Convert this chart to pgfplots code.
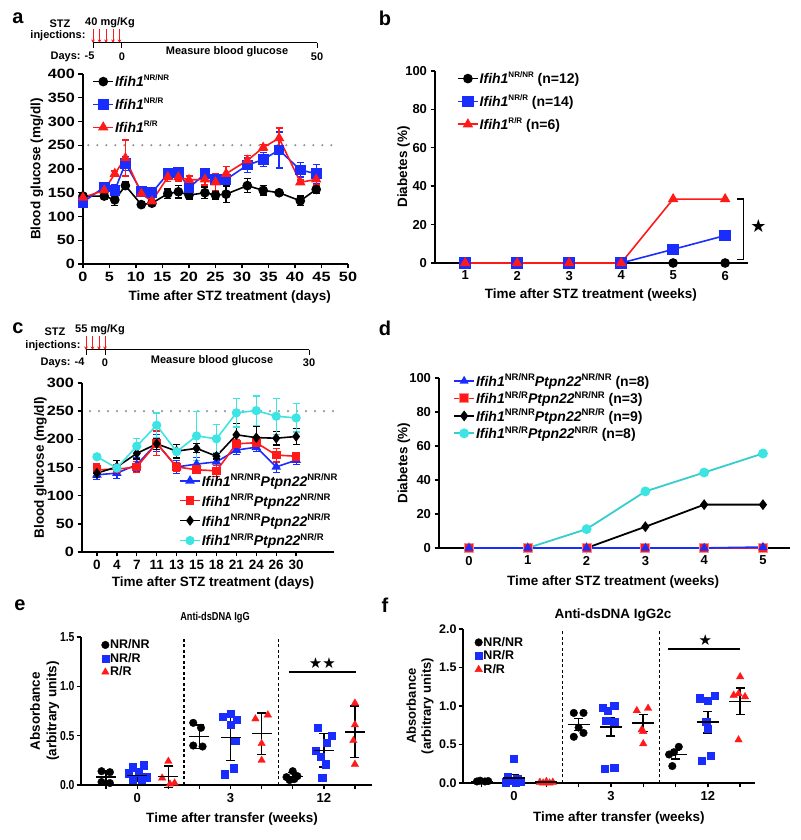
\documentclass[border=0pt]{standalone}
\usepackage{fontspec}
\setmainfont{Liberation Sans}
\newfontfamily\tickfont{Liberation Sans}[FakeStretch=1.2]
\newfontfamily\condfont{Liberation Sans}[FakeStretch=0.8]
\newfontfamily\sym{DejaVu Sans}
\usepackage{pgfplots}
\pgfplotsset{compat=1.18}
\usetikzlibrary{arrows.meta}
\definecolor{cblue}{RGB}{25,45,255}
\definecolor{cred}{RGB}{255,25,25}
\definecolor{ccyan}{RGB}{60,228,228}
\definecolor{dotgray}{RGB}{150,150,150}
\newcommand\fs[1]{\fontsize{#1}{#1}\selectfont}
\newcommand\spr[2][8]{\raisebox{0.75ex}{\fs{#1}\upshape #2}}
\pgfplotsset{
  gp/.style={
    scale only axis, axis lines=left, axis line style={-, line width=1.6pt},
    tick align=outside, major tick length=4.5pt, tick style={line width=1.4pt, black},
    tick label style={font=\bfseries\fs{13}},
    /pgf/number format/assume math mode=true,
    label style={font=\bfseries\fs{13.5}},
    clip=false, anchor=south west,
    legend cell align=left,
    legend style={draw=none, fill=none, inner sep=0pt, font=\bfseries\fs{14}, nodes={inner sep=1pt}},
  },
  wide/.style={yticklabel style={font=\tickfont\bfseries\fs{13.5}}},
  widex/.style={xticklabel style={font=\tickfont\bfseries\fs{13.5}}},
  xl/.style 2 args={xlabel style={at={(axis description cs:#1,#2)}, anchor=center}},
  yl/.style={ylabel style={at={(axis description cs:#1,0.5)}, anchor=center}},
  lineleg/.style={legend image code/.code={\draw[mark repeat=2,mark phase=2,##1] plot coordinates {(0pt,0pt) (10pt,0pt) (20pt,0pt)};}},
  markleg/.style={legend image code/.code={\draw[##1] plot coordinates {(0pt,0pt)};}},
  errs/.style={error bars/.cd, y dir=both, y explicit, error bar style={line width=1.3pt, solid}, error mark options={rotate=90, line width=1.3pt, mark size=3.5pt}},
  msd/.style={forget plot, only marks, black, mark=-, mark size=#1, mark options={line width=1.6pt},
    error bars/.cd, y dir=both, y explicit, error bar style={line width=1.6pt}, error mark options={rotate=90, line width=1.6pt, mark size=4.5pt}},
}
\begin{document}
\begin{tikzpicture}
\useasboundingbox (0,0) rectangle (800pt,840pt);
% panel labels
\node[font=\bfseries\fs{20}] at (18pt,822pt) {a};
\node[font=\bfseries\fs{20}] at (385pt,822pt) {b};
\node[font=\bfseries\fs{20}] at (18pt,512pt) {c};
\node[font=\bfseries\fs{20}] at (385pt,512pt) {d};
\node[font=\bfseries\fs{20}] at (20pt,235pt) {e};
\node[font=\bfseries\fs{20}] at (385pt,235pt) {f};
% timeline a
\foreach \x in {93,99.5,106,113,119.5} {\draw[cred, line width=0.8pt, -{Stealth[length=3.5pt,width=3.5pt]}] ({\x*1pt},811pt) -- ({\x*1pt},797pt);}
\draw[line width=1pt] (93pt,797pt) -- (317pt,797pt);
\foreach \x in {93,121,317} {\draw[line width=1pt] ({\x*1pt},797pt) -- ({\x*1pt},792pt);}
\begin{scope}[every node/.style={font=\bfseries\fs{11}}]
\node at (60pt,816pt) {STZ};
\node at (110pt,817pt) {40 mg/Kg};
\node[anchor=east] at (89pt,804pt) {injections:};
\node[anchor=east] at (98pt,783pt) {Days: -5};
\node at (122pt,783pt) {0};
\node at (227pt,788pt) {Measure blood glucose};
\node at (317pt,783pt) {50};
% timeline c
\node at (55pt,508pt) {STZ};
\node at (100pt,510pt) {55 mg/Kg};
\node[anchor=east] at (84pt,494pt) {injections:};
\node[anchor=east] at (88pt,477pt) {Days: -4};
\node at (105pt,477pt) {0};
\node at (212pt,479pt) {Measure blood glucose};
\node at (309pt,477pt) {30};
\end{scope}
\foreach \x in {86,92.5,99,105} {\draw[cred, line width=0.8pt, -{Stealth[length=3.5pt,width=3.5pt]}] ({\x*1pt},504pt) -- ({\x*1pt},490pt);}
\draw[line width=1pt] (86pt,490pt) -- (309pt,490pt);
\foreach \x in {86,105,309} {\draw[line width=1pt] ({\x*1pt},490pt) -- ({\x*1pt},485pt);}
% titles e f
\node[font=\condfont\bfseries\fs{11.5}] at (215pt,222pt) {Anti-dsDNA IgG};
\node[font=\bfseries\fs{13.5}] at (613pt,225pt) {Anti-dsDNA IgG2c};

%================ a
\begin{axis}[gp, wide, widex, at={(83pt,576pt)}, width=265pt, height=190pt,
  xmin=0, xmax=50, ymin=0, ymax=400, xtick={0,5,...,50}, ytick={0,50,...,400},
  xlabel={Time after STZ treatment (days)}, ylabel={Blood glucose (mg/dl)},
  xl={0.554}{-0.174}, yl=-0.174,
  lineleg, legend style={at={(0.035,1.0)}, anchor=north west, row sep=8pt}]
\addplot[forget plot, dotgray, line width=2.4pt, line cap=round, dash pattern=on 0pt off 9pt] coordinates {(1,250) (48.5,250)};
\addplot[black, line width=1.6pt, mark=*, mark size=4pt, errs] coordinates {
(0,143)+-(0,6) (4,143)+-(0,6) (6,135)+-(0,12) (8,165)+-(0,8) (11,125)+-(0,5) (13,128)+-(0,5)
(16,148)+-(0,10) (18,152)+-(0,13) (20,145)+-(0,8) (23,150)+-(0,12) (25,145)+-(0,8) (27,147)+-(0,17)
(31,165)+-(0,15) (34,155)+-(0,10) (37,150)+-(0,5) (41,133)+-(0,10) (44,157)+-(0,8)};
\addlegendentry{\textit{Ifih1}\spr{NR/NR}}
\addplot[cblue, line width=1.6pt, mark=square*, mark size=4.5pt, errs] coordinates {
(0,130)+-(0,8) (4,162)+-(0,8) (6,155)+-(0,12) (8,212)+-(0,15) (11,153)+-(0,10) (13,150)+-(0,10)
(16,190)+-(0,10) (18,193)+-(0,8) (20,160)+-(0,10) (23,190)+-(0,8) (25,178)+-(0,10) (27,178)+-(0,10)
(31,208)+-(0,15) (34,220)+-(0,15) (37,240)+-(0,38) (41,198)+-(0,15) (44,190)+-(0,20)};
\addlegendentry{\textit{Ifih1}\spr{NR/R}}
\addplot[cred, line width=1.6pt, mark=triangle*, mark size=4.5pt, errs] coordinates {
(0,140)+-(0,6) (4,155)+-(0,6) (6,190)+-(0,6) (8,223)+-(0,38) (11,148)+-(0,6) (13,132)+-(0,6)
(16,183)+-(0,10) (18,183)+-(0,8) (20,177)+-(0,8) (23,178)+-(0,12) (25,172)+-(0,18) (27,190)+-(0,15)
(31,218)+-(0,10) (34,245)+-(0,6) (37,265)+-(0,21) (41,172)+-(0,5) (44,178)+-(0,12)};
\addlegendentry{\textit{Ifih1}\spr{R/R}}
\end{axis}

%================ b
\begin{axis}[gp, at={(435pt,577pt)}, width=313pt, height=192pt,
  xmin=0.42, xmax=6.44, ymin=0, ymax=100, xtick={1,...,6}, ytick={0,20,...,100},
  xlabel={Time after STZ treatment (weeks)}, ylabel={Diabetes (\%)},
  xl={0.498}{-0.167}, yl=-0.1,
  lineleg, legend style={at={(0.07,1.0)}, anchor=north west, row sep=8pt}]
\addplot[black, line width=1.6pt, mark=*, mark size=4pt] coordinates {(1,0)(2,0)(3,0)(4,0)(5,0)(6,0)};
\addlegendentry{\textit{Ifih1}\spr{NR/NR} (n=12)}
\addplot[cblue, line width=1.6pt, mark=square*, mark size=5pt] coordinates {(1,0)(2,0)(3,0)(4,0)(5,7.1)(6,14.3)};
\addlegendentry{\textit{Ifih1}\spr{NR/R} (n=14)}
\addplot[cred, line width=1.6pt, mark=triangle*, mark size=4.5pt] coordinates {(1,0)(2,0)(3,0)(4,0)(5,33.3)(6,33.3)};
\addlegendentry{\textit{Ifih1}\spr{R/R} (n=6)}
\draw[line width=1.3pt] (axis cs:6.23,33.3) -- (axis cs:6.35,33.3) -- (axis cs:6.35,2) -- (axis cs:6.23,2);
\node[font=\sym\fs{18}] at (axis cs:6.64,19) {★};
\end{axis}

%================ c
\begin{axis}[gp, wide, at={(82pt,288pt)}, width=252pt, height=169pt,
  xmin=-0.75, xmax=11.9, ymin=0, ymax=300, xtick={0,...,10}, xticklabels={0,4,7,11,13,15,18,21,24,26,30},
  ytick={0,50,...,300}, xticklabel style={font=\bfseries\fs{13.5}},
  xlabel={Time after STZ treatment (days)}, ylabel={Blood glucose (mg/dl)},
  xl={0.52}{-0.183}, yl=-0.165,
  lineleg, legend style={at={(0.385,0.47)}, anchor=north west, row sep=4pt}]
\addplot[forget plot, dotgray, line width=2.4pt, line cap=round, dash pattern=on 0pt off 9pt] coordinates {(-0.35,250) (12,250)};
\addplot[cblue, line width=1.6pt, mark=triangle*, mark size=4pt, errs] coordinates {
(0,137)+-(0,8) (1,140)+-(0,10) (2,155)+-(0,12) (3,193)+-(0,15) (4,151)+-(0,12) (5,156)+-(0,12)
(6,160)+-(0,10) (7,181)+-(0,8) (8,186)+-(0,8) (9,151)+-(0,10) (10,163)+-(0,8)};
\addlegendentry{\textit{Ifih1}\spr[9.5]{NR/NR}\textit{Ptpn22}\spr[9.5]{NR/NR}}
\addplot[cred, line width=1.6pt, mark=square*, mark size=3.5pt, errs] coordinates {
(0,146)+-(0,10) (1,147)+-(0,8) (2,151)+-(0,10) (3,193)+-(0,22) (4,151)+-(0,8) (5,146)+-(0,5)
(6,144)+-(0,10) (7,192)+-(0,8) (8,194)+-(0,10) (9,172)+-(0,12) (10,170)+-(0,6)};
\addlegendentry{\textit{Ifih1}\spr[9.5]{NR/R}\textit{Ptpn22}\spr[9.5]{NR/NR}}
\addplot[black, line width=1.6pt, mark=diamond*, mark size=4pt, errs] coordinates {
(0,140)+-(0,8) (1,151)+-(0,12) (2,175)+-(0,10) (3,192)+-(0,10) (4,179)+-(0,12) (5,184)+-(0,8)
(6,170)+-(0,5) (7,208)+-(0,20) (8,203)+-(0,20) (9,202)+-(0,12) (10,205)+-(0,14)};
\addlegendentry{\textit{Ifih1}\spr[9.5]{NR/NR}\textit{Ptpn22}\spr[9.5]{NR/R}}
\addplot[ccyan, line width=1.6pt, mark=*, mark size=3.8pt, errs] coordinates {
(0,169)+-(0,3) (1,149)+-(0,3) (2,188)+-(0,13) (3,225)+-(0,22) (4,178)+-(0,3) (5,206)+-(0,43)
(6,201)+-(0,25) (7,247)+-(0,25) (8,251)+-(0,26) (9,241)+-(0,32) (10,238)+-(0,25)};
\addlegendentry{\textit{Ifih1}\spr[9.5]{NR/R}\textit{Ptpn22}\spr[9.5]{NR/R}}
\end{axis}

%================ d
\begin{axis}[gp, at={(439pt,292pt)}, width=351pt, height=170pt,
  xmin=-0.51, xmax=5.46, ymin=0, ymax=100, xtick={0,...,5}, ytick={0,20,...,100},
  xlabel={Time after STZ treatment (weeks)}, ylabel={Diabetes (\%)},
  xl={0.496}{-0.2}, yl=-0.1,
  lineleg, reverse legend, legend style={at={(0.04,1.03)}, anchor=north west, row sep=1.5pt}]
\addplot[ccyan!90!black, line width=1.8pt, mark=*, mark size=4pt, mark options={ccyan}] coordinates {(0,0)(1,0)(2,11.1)(3,33.3)(4,44.4)(5,55.6)};
\addlegendentry{\textit{Ifih1}\spr[9.5]{NR/R}\textit{Ptpn22}\spr[9.5]{NR/R} (n=8)}
\addplot[black, line width=1.8pt, mark=diamond*, mark size=4pt] coordinates {(0,0)(1,0)(2,0)(3,12.5)(4,25.5)(5,25.5)};
\addlegendentry{\textit{Ifih1}\spr[9.5]{NR/NR}\textit{Ptpn22}\spr[9.5]{NR/R} (n=9)}
\addplot[cred, line width=1.8pt, mark=square*, mark size=4.5pt, mark options={fill=cred, draw=red!45, line width=1pt}] coordinates {(0,0)(1,0)(2,0)(3,0)(4,0)(5,0)};
\addlegendentry{\textit{Ifih1}\spr[9.5]{NR/R}\textit{Ptpn22}\spr[9.5]{NR/NR} (n=3)}
\addplot[cblue, line width=1.8pt, mark=triangle*, mark size=3.5pt] coordinates {(0,0)(1,0)(2,0)(3,0)(4,0)(5,0.5)};
\addlegendentry{\textit{Ifih1}\spr[9.5]{NR/NR}\textit{Ptpn22}\spr[9.5]{NR/NR} (n=8)}
\end{axis}

%================ e
\begin{axis}[gp, at={(81pt,55pt)}, width=291pt, height=148pt,
  xmin=0.19, xmax=9.55, ymin=0, ymax=1.5, xtick={1,...,9}, xticklabels={,0,,,3,,,12,},
  ytick={0,0.5,1,1.5}, yticklabel style={font=\condfont\bfseries\fs{13}, xshift=1.5pt, /pgf/number format/.cd,fixed,fixed zerofill,precision=1},
  xlabel={Time after transfer (weeks)}, ylabel={Absorbance\\[3pt](arbitrary units)}, ylabel style={align=center, font=\bfseries\fs{13.5}},
  xl={0.519}{-0.23}, yl=-0.125,
  markleg, legend style={at={(0.07,0.99)}, anchor=north west, row sep=1pt, font=\bfseries\fs{12.5}}]
\addplot[forget plot, black, line width=1.2pt, dash pattern=on 3pt off 2.5pt] coordinates {(3.5,0)(3.5,1.5)};
\addplot[forget plot, black, line width=1.2pt, dash pattern=on 3pt off 2.5pt] coordinates {(6.55,0)(6.55,1.5)};
\addplot[only marks, black, mark=*, mark size=3.8pt] coordinates {
(0.85,0.14)(1.12,0.13)(0.85,0.03)(1.12,0.02)
(3.8,0.63)(4.05,0.58)(3.8,0.40)(4.1,0.39)
(6.8,0.08)(7.0,0.14)(7.15,0.09)(6.9,0.05)(7.05,0.06)};
\addlegendentry{NR/NR}
\addplot[only marks, cblue, mark=square*, mark size=3.6pt] coordinates {
(1.85,0.18)(2.2,0.2)(1.72,0.12)(2.05,0.13)(1.85,0.05)(2.15,0.05)(2.3,0.08)
(4.75,0.69)(5.0,0.72)(5.2,0.66)(5.0,0.61)(5.15,0.45)(4.8,0.11)(5.1,0.17)
(7.8,0.58)(8.25,0.5)(8.1,0.43)(7.75,0.35)(7.9,0.29)(8.05,0.21)(7.95,0.07)};
\addlegendentry{NR/R}
\addplot[only marks, cred, mark=triangle*, mark size=4.3pt] coordinates {
(3.0,0.24)(2.8,0.07)(3.05,0.01)(3.2,0.02)
(5.8,0.67)(6.2,0.71)(6.0,0.42)(6.0,0.25)
(9.0,0.83)(9.0,0.61)(8.95,0.45)(9.0,0.21)};
\addlegendentry{R/R}
\addplot[msd=10pt] coordinates {
(1,0.08)+-(0,0.06) (2,0.095)+-(0,0.06) (3,0.085)+-(0,0.11) (4,0.49)+-(0,0.12) (5,0.48)+-(0,0.23)
(6,0.52)+-(0,0.21) (7,0.085)+-(0,0.04) (8,0.35)+-(0,0.17) (9,0.54)+-(0,0.26)};
\draw[line width=1.5pt] (axis cs:6.87,1.145) -- (axis cs:9.03,1.145);
\node[font=\sym\fs{15}] at (axis cs:7.95,1.24) {★★};
\end{axis}

%================ f
\begin{axis}[gp, at={(463pt,57pt)}, width=292pt, height=154pt,
  xmin=0.42, xmax=9.46, ymin=0, ymax=2, xtick={1,...,9}, xticklabels={,0,,,3,,,12,},
  ytick={0,0.5,...,2}, yticklabel style={font=\bfseries\fs{12.5}, xshift=1.5pt, /pgf/number format/.cd,fixed,fixed zerofill,precision=1},
  xlabel={Time after transfer (weeks)}, ylabel={Absorbance\\[2pt](arbitrary units)}, ylabel style={align=center, font=\bfseries\fs{13}},
  xl={0.534}{-0.227}, yl=-0.147,
  markleg, legend style={at={(0.04,0.955)}, anchor=north west, row sep=1pt, font=\bfseries\fs{12.5}}]
\addplot[forget plot, black, line width=1.2pt, dash pattern=on 3pt off 2.5pt] coordinates {(3.5,0)(3.5,2)};
\addplot[forget plot, black, line width=1.2pt, dash pattern=on 3pt off 2.5pt] coordinates {(6.5,0)(6.5,2)};
\addplot[only marks, black, mark=*, mark size=3.8pt] coordinates {
(0.85,0.02)(0.95,0.03)(1.1,0.02)(1.2,0.025)
(3.85,0.91)(4.15,0.91)(4.0,0.72)(3.85,0.6)(4.15,0.65)
(6.8,0.37)(7.1,0.47)(6.95,0.4)(6.9,0.22)};
\addlegendentry{NR/NR}
\addplot[only marks, cblue, mark=square*, mark size=3.6pt] coordinates {
(2.0,0.32)(1.8,0.08)(2.1,0.05)(1.95,0.03)(1.75,0.01)(2.2,0.02)(2.05,0.0)
(4.75,0.98)(5.1,1.0)(4.9,0.94)(4.85,0.81)(5.1,0.79)(4.8,0.19)(5.1,0.2)
(7.75,1.1)(8.0,1.07)(8.2,1.13)(7.95,0.8)(8.0,0.7)(7.8,0.29)(8.1,0.35)};
\addlegendentry{NR/R}
\addplot[only marks, cred, mark=triangle*, mark size=4.3pt] coordinates {
(2.8,0.01)(2.9,0.0)(3.0,0.02)(3.1,0.0)(3.2,0.01)
(5.8,0.94)(6.15,0.97)(5.95,0.69)(6.0,0.67)(6.0,0.51)
(9.0,1.38)(8.8,1.14)(9.15,1.12)(8.95,1.16)(8.95,0.56)};
\addlegendentry{R/R}
\addplot[msd=11pt] coordinates {
(1,0.02)+-(0,0.01) (2,0.066)+-(0,0.045) (3,0.01)+-(0,0.01) (4,0.76)+-(0,0.08) (5,0.73)+-(0,0.12)
(6,0.78)+-(0,0.11) (7,0.37)+-(0,0.06) (8,0.79)+-(0,0.14) (9,1.06)+-(0,0.17)};
\draw[line width=1.5pt] (axis cs:6.78,1.74) -- (axis cs:9.0,1.74);
\node[font=\sym\fs{15}] at (axis cs:7.92,1.85) {★};
\end{axis}
\end{tikzpicture}
\end{document}
